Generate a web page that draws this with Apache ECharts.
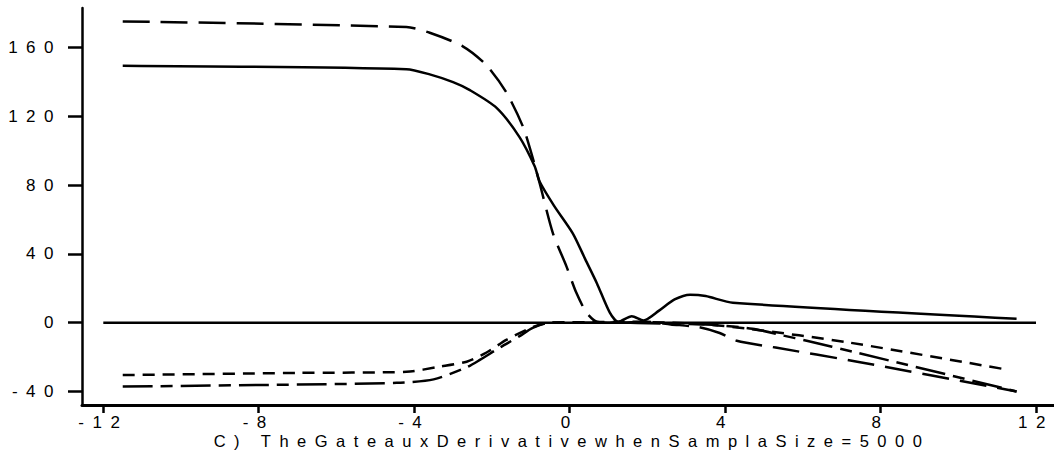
<!DOCTYPE html>
<html>
<head>
<meta charset="utf-8">
<script src="https://cdn.jsdelivr.net/npm/echarts@6/dist/echarts.min.js"></script>
<style>
html,body{margin:0;padding:0;background:#fff;}
#chart{width:1054px;height:465px;}
#chart text{letter-spacing:8.5px;}
</style>
</head>
<body>
<div id="chart"></div>
<script>
const xTicks = [-12, -8, -4, 0, 4, 8, 12];
const yTicks = [-40, 0, 40, 80, 120, 160];
const titleText = 'C) TheGateauxDerivativewhenSamplaSize=5000';

const solidLine = [[-11.5,149.5],[-4.2,147.5],[-3.6,144.5],[-3.0,140],[-2.58,135.5],[-1.88,125],[-1.29,108],[-0.9,91],[-0.77,82],[-0.4,68],[0.08,52],[0.4,37],[0.7,23],[1.03,6],[1.25,0.5],[1.6,3.8],[1.9,1.3],[2.3,7],[2.7,13.5],[3.1,16.3],[3.5,15.5],[4.2,11.6],[11.5,2.3]];
const longDash = [[-11.5,175.3],[-4.2,172],[-3.6,168.7],[-2.75,160.8],[-2.15,150],[-1.63,134],[-1.2,114],[-0.99,99],[-0.77,81],[-0.43,52],[-0.08,32.6],[0.17,17.5],[0.43,6],[0.7,0.6],[1.2,0],[2.0,0.5],[2.6,-1],[3.3,-2.5],[3.86,-6],[4.3,-10.5],[5.3,-14.5],[7.4,-22.7],[11.5,-40]];
const shortDash = [[-11.5,-30.5],[-7,-29.2],[-4.2,-28.6],[-3.35,-25.6],[-2.65,-22.7],[-2.15,-17.5],[-1.63,-10],[-1.1,-4],[-0.77,-1.2],[-0.5,0],[0.5,0.3],[1.5,0.5],[2.5,0],[3.5,-1],[4.6,-3.5],[7.2,-11.6],[11.3,-27.5]];
const dashDot = [[-11.5,-37.2],[-7,-36],[-4.45,-35],[-3.5,-33],[-2.65,-26],[-2.3,-21.5],[-1.8,-14.5],[-1.3,-8],[-0.95,-3],[-0.5,0],[1,0],[2.5,-0.5],[3.8,-1.5],[4.7,-3.5],[5.5,-7.5],[6.1,-10.5],[7.4,-17.5],[11.5,-40]];
const zeroLine = [[-12,0],[12,0]];

const chart = echarts.init(document.getElementById('chart'), null, {renderer:'svg'});
const FONT = "'Liberation Sans', Arial, sans-serif";
function line(data, type, smooth){
  return {type:'line', data:data, symbol:'none', smooth:smooth,
    lineStyle:{color:'#000', width:2.5, type:type, cap:'butt', join:'round'}, silent:true};
}
chart.setOption({
  animation:false,
  backgroundColor:'#fff',
  grid:{left:82, right:0, top:8, bottom:60},
  xAxis:{type:'value', min:-12.548, max:12.463,
    axisLine:{show:true, onZero:false, lineStyle:{color:'#000', width:3}},
    axisTick:{show:true, length:8, customValues:xTicks, lineStyle:{color:'#000', width:2.5}},
    axisLabel:{show:true, customValues:xTicks, margin:9, color:'#000', fontSize:17, fontFamily:FONT},
    splitLine:{show:false}},
  yAxis:{type:'value', min:-47.9, max:183.1,
    axisLine:{show:true, onZero:false, lineStyle:{color:'#000', width:2.5}},
    axisTick:{show:true, length:14, customValues:yTicks, lineStyle:{color:'#000', width:2.5}},
    axisLabel:{show:true, customValues:yTicks, margin:20, color:'#000', fontSize:17, fontFamily:FONT},
    splitLine:{show:false}},
  graphic:[{type:'text', x:572, y:441, style:{text:titleText, fill:'#000', font:'16.5px '+FONT, textAlign:'center', textVerticalAlign:'middle'}}],
  series:[
    line(zeroLine,'solid',false),
    line(solidLine,'solid',0.25),
    line(longDash,[27,11],0.25),
    line(shortDash,[12,8],0.25),
    line(dashDot,[30,8,12,8],0.25)
  ]
});
</script>
</body>
</html>
